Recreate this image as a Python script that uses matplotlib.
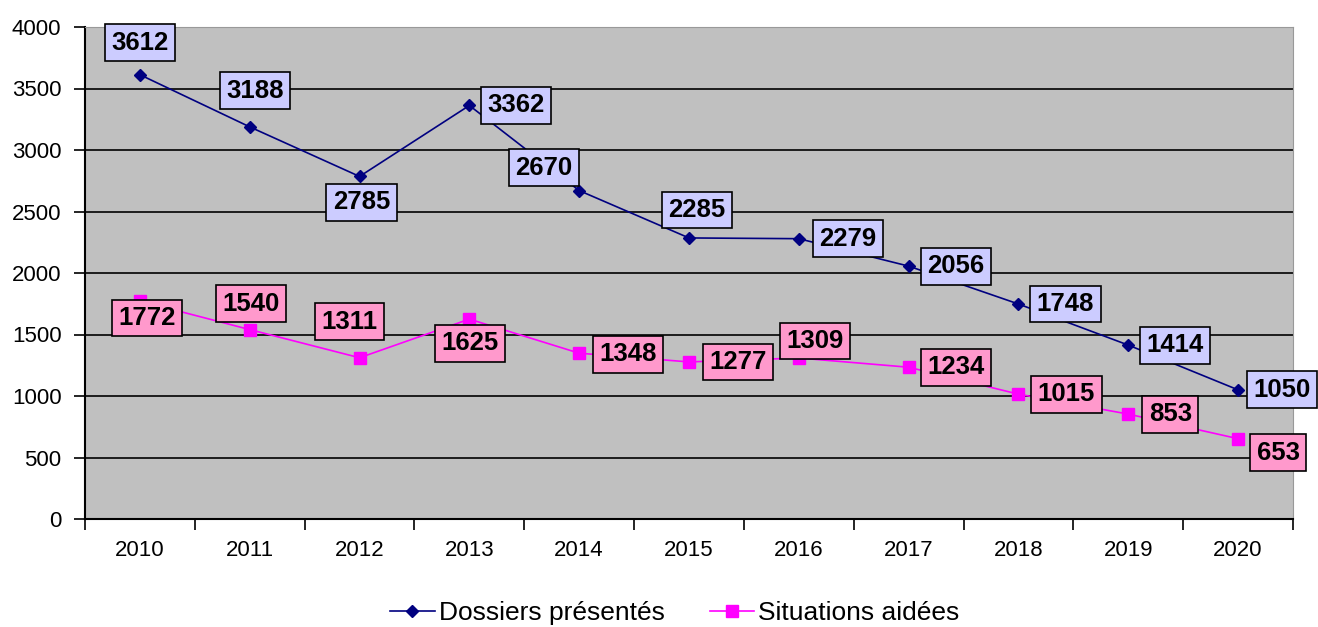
import matplotlib.pyplot as plt

# Données
annees = ['2010', '2011', '2012', '2013', '2014', '2015', '2016', '2017', '2018', '2019', '2020']
dossiers = [3612, 3188, 2785, 3362, 2670, 2285, 2279, 2056, 1748, 1414, 1050]
situations = [1772, 1540, 1311, 1625, 1348, 1277, 1309, 1234, 1015, 853, 653]

# Décalages des étiquettes (pixels)
decal_dossiers = [(0, 32), (5, 36), (2, -26), (47, 0), (-35, 23), (8, 28),
                  (49, 0), (47, 0), (47, 0), (47, 0), (44, 0)]
decal_situations = [(7, -17), (1, 26), (-10, 36), (1, -24), (49, -1), (49, 0),
                    (16, 17), (47, 0), (48, 0), (42, 0), (40, -14)]

plt.rcParams['font.family'] = ['Liberation Sans', 'DejaVu Sans']

fig = plt.figure(figsize=(13.18, 6.27), dpi=100)
ax = fig.add_axes([85 / 1318, 1 - 519 / 627, (1293 - 85) / 1318, (519 - 27) / 627])
ax.set_facecolor('#C0C0C0')

x = list(range(len(annees)))
ax.plot(x, dossiers, color='#000080', marker='D', markersize=6, lw=1.2,
        label='Dossiers présentés', zorder=3)
ax.plot(x, situations, color='#FF00FF', marker='s', markersize=8, lw=1.2,
        label='Situations aidées', zorder=3)

def etiquettes(valeurs, decalages, couleur):
    for i, (v, d) in enumerate(zip(valeurs, decalages)):
        ax.annotate(str(v), (i, v), xytext=d, textcoords='offset pixels',
                    ha='center', va='center', fontsize=18.5, fontweight='bold',
                    annotation_clip=False, zorder=5,
                    bbox=dict(boxstyle='square,pad=0.25', fc=couleur, ec='black', lw=1.2))

etiquettes(dossiers, decal_dossiers, '#CCCCFF')
etiquettes(situations, decal_situations, '#FF99CC')

ax.set_xlim(-0.5, len(annees) - 0.5)
ax.set_ylim(0, 4000)
ax.set_yticks(range(0, 4001, 500))
ax.tick_params(axis='y', labelsize=16, length=8, width=1.2, pad=9)
ax.set_xticks(x)
ax.set_xticklabels(annees)
ax.set_xticks([i - 0.5 for i in range(len(annees) + 1)], minor=True)
ax.tick_params(axis='x', which='major', length=0, labelsize=16, pad=15)
ax.tick_params(axis='x', which='minor', length=8, width=1.2)
ax.grid(axis='y', color='black', lw=1.2)
ax.set_axisbelow(True)

ax.spines['left'].set_linewidth(1.5)
ax.spines['bottom'].set_linewidth(1.5)
ax.spines['top'].set_color('#999999')
ax.spines['right'].set_color('#999999')

fig.legend(loc='lower center', bbox_to_anchor=(0.512, -0.035), ncol=2, frameon=False,
           fontsize=19, handlelength=1.7, handletextpad=0.15, columnspacing=1.7)

fig.savefig('out.png', dpi=100)
